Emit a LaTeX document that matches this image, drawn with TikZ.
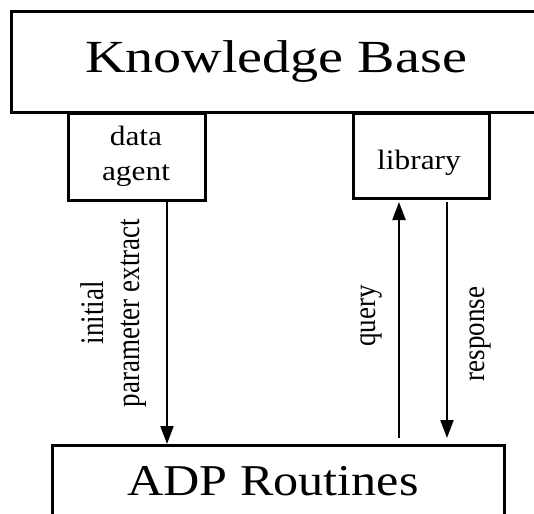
\documentclass[tikz,border=0pt]{standalone}
\usepackage{fontspec}
\setmainfont{Liberation Serif}
\usepackage{graphicx}
\usetikzlibrary{arrows.meta}
\newcommand\hstretch[2]{\scalebox{#1}[1]{#2}}
\begin{document}
\begin{tikzpicture}[x=1pt,y=-1pt,
  box/.style={draw=black, line width=3pt, inner sep=0pt, anchor=north west},
  arr/.style={draw=black, line width=2.2pt, -{Triangle[length=18pt,width=13pt]}},
  bigtext/.style={font=\fontsize{46}{55}\selectfont, anchor=base, inner sep=0pt},
  smalltext/.style={font=\fontsize{28}{35}\selectfont, anchor=base, inner sep=0pt},
  lbl/.style={font=\fontsize{27}{30}\selectfont, inner sep=0pt}]
\useasboundingbox (0,0) rectangle (534,513);
\clip (0,0) rectangle (534,513);
% boxes
\node[box, minimum width=540, minimum height=101] (kb) at (10,10) {};
\node[box, minimum width=137, minimum height=87] (da) at (67,112) {};
\node[box, minimum width=136, minimum height=85] (lib) at (352,112) {};
\node[box, minimum width=452, minimum height=100] (adp) at (51,444) {};
% texts
\node[bigtext] (kbt) at (276,73) {\hstretch{1.22}{Knowledge Base}};
\node[bigtext, font=\fontsize{44}{52}\selectfont] (adpt) at (273,495) {\hstretch{1.14}{ADP Routines}};
\node[smalltext] (dat1) at (136,145) {\hstretch{1.12}{data}};
\node[smalltext] (dat2) at (136,180) {\hstretch{1.12}{agent}};
\node[smalltext] (libt) at (419,169) {\hstretch{1.12}{library}};
% connectors
\coordinate (dOut) at (167,200);
\coordinate (qStart) at (399,438);
\coordinate (qEnd) at (399,202);
\coordinate (rStart) at (447,202);
\coordinate (rEnd) at (447,438);
\draw[arr] (dOut) -- (dOut |- adp.north);
\draw[arr] (qStart) -- (qEnd);
\draw[arr] (rStart) -- (rEnd);
% labels
\node[lbl] (ipe) at (114,313) {\hstretch{1.22}{\rotatebox{90}{\begin{tabular}{@{}c@{}}initial\\parameter extract\end{tabular}}}};
\node[lbl] (ql) at (371,316) {\hstretch{1.15}{\rotatebox{90}{query}}};
\node[lbl] (rl) at (480,334) {\hstretch{1.15}{\rotatebox{90}{response}}};
\end{tikzpicture}
\end{document}
